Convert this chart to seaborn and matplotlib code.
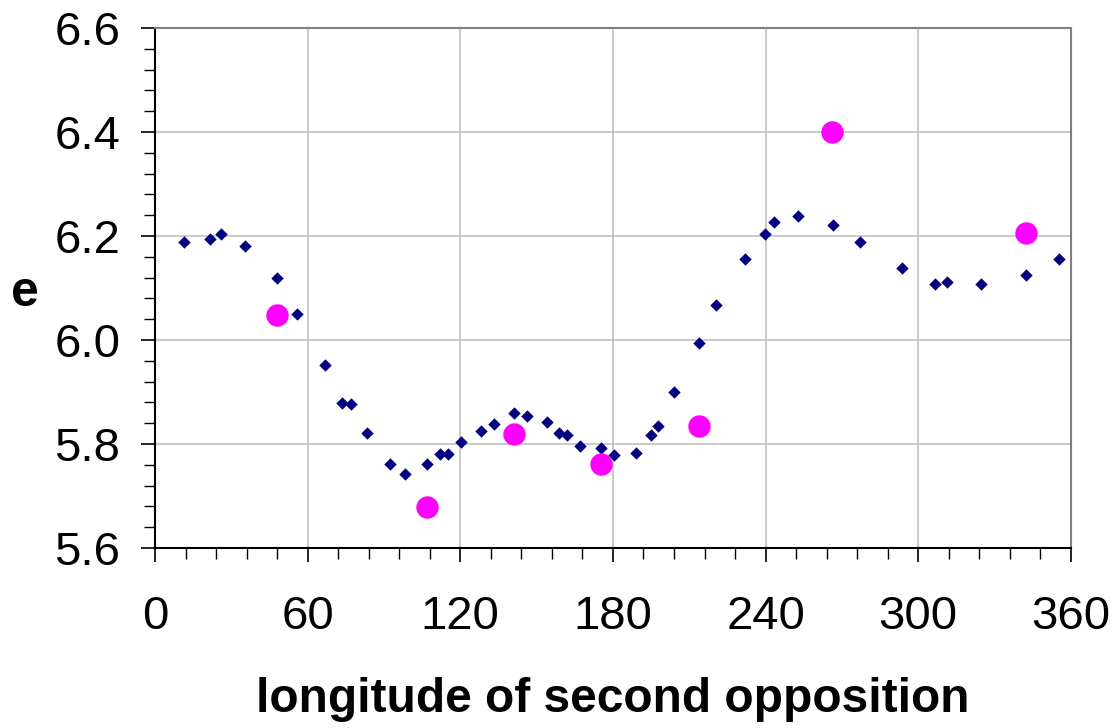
import pandas as pd
import seaborn as sns
import matplotlib.pyplot as plt
from matplotlib.ticker import MultipleLocator

# Data
calc_lon = [11.3, 21.7, 25.9, 35.5, 47.8, 55.9, 66.8, 73.5, 76.9, 83.2,
            92.5, 98.1, 106.8, 112.1, 115.3, 120.3, 128.3, 133.4, 141.2, 146.1,
            153.9, 158.9, 161.9, 167.0, 175.2, 180.5, 189.0, 194.9, 197.9, 204.1,
            213.8, 220.7, 231.8, 239.9, 243.5, 252.7, 266.5, 277.3, 293.6, 306.6,
            311.3, 324.5, 342.4, 355.2]
calc_e = [6.188, 6.195, 6.203, 6.181, 6.119, 6.050, 5.951, 5.879, 5.877, 5.822,
          5.761, 5.742, 5.761, 5.780, 5.780, 5.804, 5.825, 5.839, 5.859, 5.854,
          5.843, 5.821, 5.818, 5.797, 5.792, 5.778, 5.783, 5.818, 5.834, 5.900,
          5.994, 6.068, 6.156, 6.204, 6.226, 6.239, 6.221, 6.188, 6.139, 6.108,
          6.112, 6.107, 6.125, 6.155]

obs_lon = [47.9, 106.8, 141.2, 175.2, 213.8, 266.3, 342.4]
obs_e = [6.048, 5.679, 5.820, 5.761, 5.834, 6.400, 6.206]

calc = pd.DataFrame({"lon": calc_lon, "e": calc_e})
obs = pd.DataFrame({"lon": obs_lon, "e": obs_e})

sns.set_style("white")
plt.rcParams["font.family"] = ["Liberation Sans", "DejaVu Sans"]
plt.rcParams["text.color"] = "black"
plt.rcParams["axes.labelcolor"] = "black"
plt.rcParams["xtick.color"] = "black"
plt.rcParams["ytick.color"] = "black"


def plot_chart():
    fig = plt.figure(figsize=(11.19, 7.28), dpi=100)
    ax = fig.add_axes([0.1385, 0.2473, 0.8185, 0.7142])

    sns.scatterplot(data=calc, x="lon", y="e", marker="D", s=40,
                    color="#000080", edgecolor="#000080", linewidth=0, ax=ax, zorder=3)
    sns.scatterplot(data=obs, x="lon", y="e", marker="o", s=260,
                    color="#ff00ff", edgecolor="#ff00ff", linewidth=0, ax=ax, zorder=4)

    ax.set_xlim(0, 360)
    ax.set_ylim(5.6, 6.6)
    ax.xaxis.set_major_locator(MultipleLocator(60))
    ax.xaxis.set_minor_locator(MultipleLocator(12))
    ax.yaxis.set_major_locator(MultipleLocator(0.2))
    ax.yaxis.set_minor_locator(MultipleLocator(0.04))
    ax.yaxis.set_major_formatter(plt.FormatStrFormatter("%.1f"))

    ax.grid(True, which="major", color="#c0c0c0", linewidth=1.2)
    ax.set_axisbelow(True)

    for side in ["left", "bottom"]:
        ax.spines[side].set_color("black")
        ax.spines[side].set_linewidth(1.5)
    for side in ["top", "right"]:
        ax.spines[side].set_color("#808080")
        ax.spines[side].set_linewidth(1.5)

    ax.tick_params(which="major", direction="out", length=10, width=1.2,
                   labelsize=34, colors="black", left=True, bottom=True)
    ax.tick_params(which="minor", direction="out", length=8, width=1.0,
                   colors="black", left=True, bottom=True)
    ax.tick_params(axis="y", pad=15)
    ax.tick_params(axis="x", pad=24)

    ax.set_xlabel("longitude of second opposition", fontsize=34.5,
                  fontweight="bold", labelpad=27)
    ax.set_ylabel("e", fontsize=36, fontweight="bold", rotation=0,
                  va="center", ha="center")
    ax.yaxis.set_label_coords(-0.142, 0.49)

    fig.savefig("out.png", dpi=100)


plot_chart()
